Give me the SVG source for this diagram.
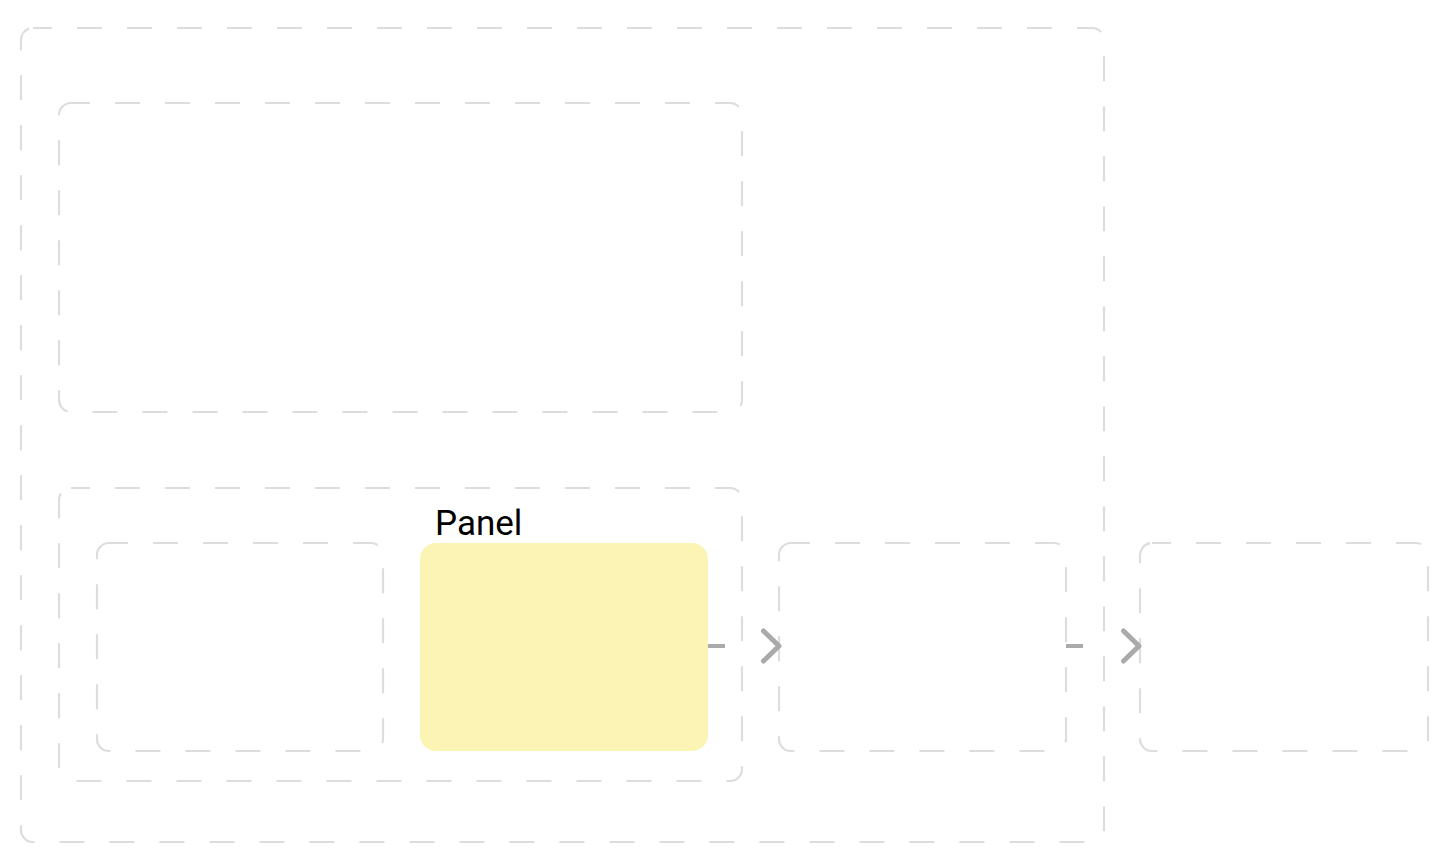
<svg xmlns="http://www.w3.org/2000/svg" width="1456" height="866" viewBox="0 0 1456 866">
<defs>
<style>
.grp{fill:none;stroke:#dddddd;stroke-width:2.2;stroke-dasharray:25 25;stroke-dashoffset:6}
.edge{fill:none;stroke:#aaaaaa;stroke-width:4;stroke-dasharray:17 60}
.lbl{font-family:Roboto,"Liberation Sans",sans-serif;font-size:35px;fill:#000}
</style>
<marker id="arr" viewBox="0 0 24 38" refX="21" refY="19" markerWidth="24" markerHeight="38" markerUnits="userSpaceOnUse" orient="auto">
<path d="M4.5,4 L20,19 L4.5,34" fill="none" stroke="#aaaaaa" stroke-width="5" stroke-linecap="round" stroke-linejoin="round"/>
</marker>
</defs>
<rect width="1456" height="866" fill="#ffffff"/>
<g id="outer"><rect class="grp" x="21" y="28" width="1083" height="814" rx="12"/></g>
<g id="top-group"><rect class="grp" x="59" y="103" width="683" height="309" rx="12"/></g>
<g id="bottom-group"><rect class="grp" x="59" y="488" width="683" height="293" rx="12"/></g>
<g id="box1"><rect class="grp" x="97" y="543" width="286" height="208" rx="12"/></g>
<g id="panel">
<rect x="420" y="543" width="288" height="208" rx="16" fill="#fbf4b4"/>
<text class="lbl" x="435" y="535">Panel</text>
</g>
<g id="box3"><rect class="grp" x="779" y="543" width="287" height="208" rx="12"/></g>
<g id="box4"><rect class="grp" x="1140" y="543" width="288" height="208" rx="12"/></g>
<g id="connectors">
<line class="edge" x1="708" y1="646" x2="780" y2="646" marker-end="url(#arr)"/>
<line class="edge" x1="1066" y1="646" x2="1140" y2="646" marker-end="url(#arr)"/>
</g>
</svg>
